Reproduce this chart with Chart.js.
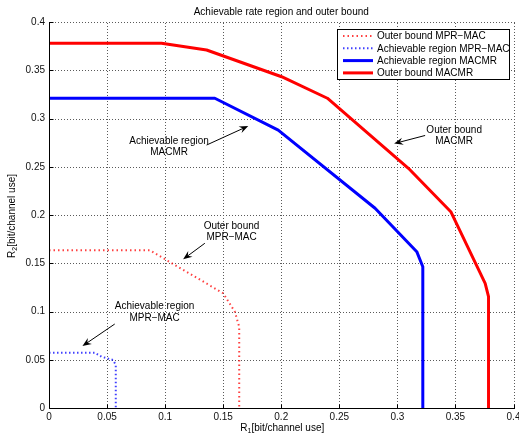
<!DOCTYPE html>
<html>
<head>
<meta charset="utf-8">
<script src="https://cdn.jsdelivr.net/npm/chart.js@4"></script>
<style>
  html, body { margin: 0; padding: 0; background: #fff; }
  canvas { display: block; }
</style>
</head>
<body>
<canvas id="chart" width="519" height="436"></canvas>
<script>
const FONT = '"Liberation Sans", Arial, sans-serif';

const xTicks = [0, 0.05, 0.1, 0.15, 0.2, 0.25, 0.3, 0.35, 0.4];
const yTicks = [0, 0.05, 0.1, 0.15, 0.2, 0.25, 0.3, 0.35, 0.4];

// outer bound MPR-MAC (red dotted)
const obMprR1 = [0, 0.087, 0.101, 0.150, 0.160, 0.1638, 0.1638];
const obMprR2 = [0.1634, 0.1634, 0.1534, 0.1189, 0.0998, 0.0842, 0];

// achievable region MPR-MAC (blue dotted)
const arMprR1 = [0, 0.0394, 0.0452, 0.0552, 0.0575, 0.0575];
const arMprR2 = [0.0573, 0.0573, 0.0532, 0.0497, 0.0446, 0];

// achievable region MACMR (blue solid)
const arMacR1 = [0, 0.1428, 0.1974, 0.2808, 0.3167, 0.3219, 0.3219];
const arMacR2 = [0.321, 0.321, 0.288, 0.207, 0.162, 0.1464, 0];

// outer bound MACMR (red solid)
const obMacR1 = [0, 0.0969, 0.1357, 0.2003, 0.2397, 0.3095, 0.346, 0.3756, 0.3785, 0.3785];
const obMacR2 = [0.378, 0.378, 0.371, 0.3433, 0.321, 0.2484, 0.2034, 0.1292, 0.1153, 0];

const seriesNames = ["Outer bound MPR\u2212MAC", "Achievable region MPR\u2212MAC", "Achievable region MACMR", "Outer bound MACMR"];

// text annotations with arrows (data units)
const noteText = [["Achievable region", "MACMR"], ["Outer bound", "MACMR"], ["Outer bound", "MPR\u2212MAC"], ["Achievable region", "MPR\u2212MAC"]];
const noteX = [0.1034, 0.3489, 0.1572, 0.0909];
const noteY = [0.2767, 0.288, 0.1886, 0.105];
const arrowFromX = [0.1357, 0.3239, 0.1342, 0.0566];
const arrowFromY = [0.2725, 0.2824, 0.1707, 0.087];
const arrowToX = [0.1716, 0.2972, 0.1155, 0.0288];
const arrowToY = [0.2922, 0.274, 0.1541, 0.0642];

const styles = [
  { color: "rgba(255,0,0,0.75)", width: 2, dash: [1.5, 3] },
  { color: "rgba(0,0,255,0.75)", width: 2, dash: [1.5, 2.5] },
  { color: "#0000ff", width: 3, dash: [] },
  { color: "#ff0000", width: 3, dash: [] }
];

function pts(xs, ys) {
  return xs.map((x, i) => ({ x: x, y: ys[i] }));
}

const seriesData = [pts(obMprR1, obMprR2), pts(arMprR1, arMprR2), pts(arMacR1, arMacR2), pts(obMacR1, obMacR2)];

function drawArrow(ctx, x0, y0, x1, y1) {
  const ang = Math.atan2(y1 - y0, x1 - x0);
  const L = 9, W = 3.6;
  ctx.beginPath();
  ctx.moveTo(x0, y0);
  ctx.lineTo(x1 - Math.cos(ang) * L * 0.6, y1 - Math.sin(ang) * L * 0.6);
  ctx.stroke();
  ctx.save();
  ctx.translate(x1, y1);
  ctx.rotate(ang);
  ctx.beginPath();
  ctx.moveTo(0, 0);
  ctx.lineTo(-L, -W);
  ctx.lineTo(-L * 0.65, 0);
  ctx.lineTo(-L, W);
  ctx.closePath();
  ctx.fill();
  ctx.restore();
}

function drawSubLabel(ctx, main, sub, rest, x, y) {
  ctx.font = "10px " + FONT;
  const w1 = ctx.measureText(main).width;
  const w3 = ctx.measureText(rest).width;
  ctx.font = "7px " + FONT;
  const w2 = ctx.measureText(sub).width;
  let cx = x - (w1 + w2 + w3) / 2;
  ctx.textAlign = "left";
  ctx.textBaseline = "middle";
  ctx.font = "10px " + FONT;
  ctx.fillText(main, cx, y);
  cx += w1;
  ctx.font = "7px " + FONT;
  ctx.fillText(sub, cx, y + 3);
  cx += w2;
  ctx.font = "10px " + FONT;
  ctx.fillText(rest, cx, y);
}

// dotted MATLAB-style grid, drawn under the data
const gridLines = {
  id: "gridLines",
  beforeDatasetsDraw(chart) {
    const ctx = chart.ctx;
    const xs = chart.scales.x, ys = chart.scales.y;
    const area = chart.chartArea;
    ctx.save();
    ctx.strokeStyle = "#5a5a5a";
    ctx.lineWidth = 1;
    ctx.setLineDash([1, 2]);
    ctx.beginPath();
    xTicks.forEach(v => {
      if (v === 0) return;
      const px = Math.round(xs.getPixelForValue(v)) + 0.5;
      ctx.moveTo(px, Math.round(area.bottom));
      ctx.lineTo(px, Math.round(area.top));
    });
    yTicks.forEach(v => {
      if (v === 0) return;
      const py = Math.round(ys.getPixelForValue(v)) + 0.5;
      ctx.moveTo(Math.round(area.left), py);
      ctx.lineTo(Math.round(area.right) + 1, py);
    });
    ctx.stroke();
    ctx.restore();
  }
};

const extras = {
  id: "extras",
  afterDraw(chart) {
    const ctx = chart.ctx;
    const xs = chart.scales.x, ys = chart.scales.y;
    const area = chart.chartArea;
    ctx.save();
    ctx.setLineDash([]);
    ctx.fillStyle = "#000";
    ctx.strokeStyle = "#000";
    ctx.lineWidth = 1;

    // axis lines and inward tick marks
    const x0 = Math.round(area.left) + 0.5, y0 = Math.round(area.bottom) + 0.5;
    ctx.beginPath();
    ctx.moveTo(x0, Math.round(area.top));
    ctx.lineTo(x0, y0);
    ctx.lineTo(Math.round(area.right) + 1, y0);
    xTicks.forEach(v => {
      const px = Math.round(xs.getPixelForValue(v)) + 0.5;
      ctx.moveTo(px, y0);
      ctx.lineTo(px, y0 - 4);
    });
    yTicks.forEach(v => {
      const py = Math.round(ys.getPixelForValue(v)) + 0.5;
      ctx.moveTo(x0, py);
      ctx.lineTo(x0 + 4, py);
    });
    ctx.stroke();

    // title
    ctx.font = "10px " + FONT;
    ctx.textAlign = "center";
    ctx.textBaseline = "middle";
    ctx.fillText("Achievable rate region and outer bound", (area.left + area.right) / 2, 12);

    // axis labels
    drawSubLabel(ctx, "R", "1", "[bit/channel use]", (area.left + area.right) / 2 + 1, 428);
    ctx.save();
    ctx.translate(12, (area.top + area.bottom) / 2 + 1);
    ctx.rotate(-Math.PI / 2);
    drawSubLabel(ctx, "R", "2", "[bit/channel use]", 0, 0);
    ctx.restore();

    // annotations
    ctx.font = "10px " + FONT;
    ctx.textAlign = "center";
    ctx.textBaseline = "middle";
    ctx.lineWidth = 1;
    noteText.forEach((lines, i) => {
      const tx = xs.getPixelForValue(noteX[i]);
      const ty = ys.getPixelForValue(noteY[i]);
      lines.forEach((t, j) => ctx.fillText(t, tx, ty + j * 11.5));
      drawArrow(ctx,
        xs.getPixelForValue(arrowFromX[i]), ys.getPixelForValue(arrowFromY[i]),
        xs.getPixelForValue(arrowToX[i]), ys.getPixelForValue(arrowToY[i]));
    });

    // legend
    const lx = 337.5, ly = 29.5, lw = 172, lh = 50;
    ctx.fillStyle = "#fff";
    ctx.fillRect(lx, ly, lw, lh);
    ctx.strokeStyle = "#000";
    ctx.lineWidth = 1;
    ctx.strokeRect(lx, ly, lw, lh);
    ctx.textAlign = "left";
    seriesNames.forEach((name, i) => {
      const y = 36 + i * 12.3;
      const st = styles[i];
      ctx.save();
      ctx.strokeStyle = st.color;
      ctx.lineWidth = st.width;
      ctx.setLineDash(st.dash);
      ctx.beginPath();
      ctx.moveTo(343, y);
      ctx.lineTo(373, y);
      ctx.stroke();
      ctx.restore();
      ctx.fillStyle = "#000";
      ctx.fillText(name, 377, y + 0.5);
    });
    ctx.restore();
  }
};

const fmt = v => String(+(+v).toFixed(2));

new Chart(document.getElementById("chart"), {
  type: "scatter",
  data: {
    datasets: seriesData.map((d, i) => ({
      label: seriesNames[i],
      data: d,
      showLine: true,
      borderColor: styles[i].color,
      borderWidth: styles[i].width,
      borderDash: styles[i].dash,
      borderCapStyle: "butt",
      borderJoinStyle: "round",
      pointRadius: 0,
      pointHoverRadius: 0,
      tension: 0,
      fill: false
    }))
  },
  options: {
    responsive: false,
    animation: false,
    events: [],
    layout: { padding: { top: 22, right: 5.5, left: 0, bottom: 0 } },
    plugins: {
      legend: { display: false },
      title: { display: false },
      tooltip: { enabled: false }
    },
    scales: {
      x: {
        type: "linear",
        min: 0,
        max: 0.4,
        afterBuildTicks: s => { s.ticks = xTicks.map(v => ({ value: v })); },
        afterFit: s => { s.height = 28; s.paddingLeft = 0; s.paddingRight = 0; },
        ticks: { padding: 3, color: "#111", font: { family: FONT, size: 10 }, maxRotation: 0, callback: fmt },
        grid: { display: false, drawTicks: false },
        border: { display: false }
      },
      y: {
        type: "linear",
        min: 0,
        max: 0.4,
        afterBuildTicks: s => { s.ticks = yTicks.map(v => ({ value: v })); },
        afterFit: s => { s.width = 49; s.paddingTop = 0; s.paddingBottom = 0; },
        ticks: { padding: 4, color: "#111", font: { family: FONT, size: 10 }, callback: fmt },
        grid: { display: false, drawTicks: false },
        border: { display: false }
      }
    }
  },
  plugins: [gridLines, extras]
});
</script>
</body>
</html>
